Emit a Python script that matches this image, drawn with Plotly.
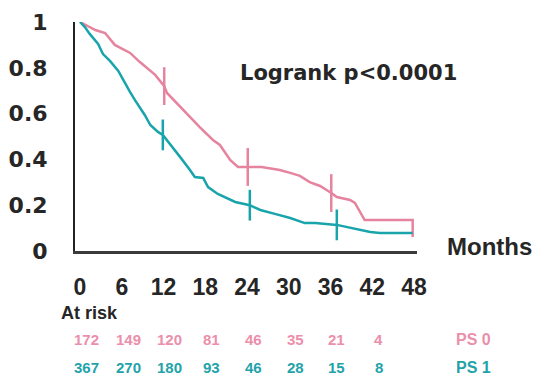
import plotly.graph_objects as go

# ---- data ----
ps0_months = [0, 2.2, 3.6, 5.0, 7.2, 8.6, 10.8, 12.1, 12.5, 14.8, 17.2, 19.1, 20.1, 21.6, 22.7,
              26.1, 28.7, 30.2, 31.6, 33.0, 34.5, 36.1, 36.9, 38.8, 39.5, 40.9, 47.8, 47.8]
ps0_surv = [1.0, 0.965, 0.952, 0.90, 0.865, 0.825, 0.769, 0.72, 0.69, 0.616, 0.541, 0.485, 0.463, 0.397, 0.367,
            0.367, 0.354, 0.341, 0.328, 0.301, 0.284, 0.253, 0.236, 0.223, 0.21, 0.135, 0.135, 0.061]
ps1_months = [0, 0.7, 1.4, 2.6, 3.3, 4.3, 5.5, 6.5, 7.2, 7.9, 9.3, 10.1, 11.2, 11.9, 13.2, 14.4, 15.8, 16.5,
              17.7, 18.4, 19.8, 22.3, 24.4, 25.9, 28.0, 30.2, 32.3, 33.8, 36.9, 39.5, 41.7, 43.1, 47.8]
ps1_surv = [1.0, 0.978, 0.948, 0.904, 0.86, 0.83, 0.786, 0.729, 0.694, 0.659, 0.594, 0.55, 0.52, 0.507, 0.454,
            0.41, 0.354, 0.323, 0.319, 0.279, 0.249, 0.214, 0.2, 0.179, 0.162, 0.144, 0.122, 0.122, 0.114,
            0.096, 0.083, 0.079, 0.079]
ps0_censor_months = [12.1, 24.1, 36.1]
ps0_censor_surv = [0.72, 0.367, 0.253]
ps1_censor_months = [11.9, 24.4, 36.9]
ps1_censor_surv = [0.507, 0.2, 0.114]

x_ticks = [0, 6, 12, 18, 24, 30, 36, 42, 48]
y_ticks = [0, 0.2, 0.4, 0.6, 0.8, 1]
y_tick_labels = ["0", "0.2", "0.4", "0.6", "0.8", "1"]
risk_months = [0, 6, 12, 18, 24, 30, 36, 42]
ps0_at_risk = [172, 149, 120, 81, 46, 35, 21, 4]
ps1_at_risk = [367, 270, 180, 93, 46, 28, 15, 8]

PINK = "#E6849F"
TEAL = "#19A4AC"
PINK_TXT = "#EB8FAB"
TEAL_TXT = "#1FA3AA"
TXT = "#262626"
FONT = "Liberation Sans"
WIDE = "DejaVu Sans"

fig = go.Figure()
fig.add_trace(go.Scatter(x=ps0_months, y=ps0_surv, mode="lines",
                         line=dict(color=PINK, width=2.5), cliponaxis=False, showlegend=False))
fig.add_trace(go.Scatter(x=ps1_months, y=ps1_surv, mode="lines",
                         line=dict(color=TEAL, width=2.5), cliponaxis=False, showlegend=False))
fig.add_trace(go.Scatter(x=ps0_censor_months, y=ps0_censor_surv, mode="markers",
                         marker=dict(symbol="line-ns", size=27, line=dict(color=PINK, width=2.5)),
                         cliponaxis=False, showlegend=False))
fig.add_trace(go.Scatter(x=ps1_censor_months, y=ps1_censor_surv, mode="markers",
                         marker=dict(symbol="line-ns", size=22, line=dict(color=TEAL, width=2.5)),
                         cliponaxis=False, showlegend=False))

# plot area: x 75..417 px, y 22..251 px
L, R, T, B = 75, 417, 22, 251
W, H = 536, 377
PH = B - T

def ypaper(py):
    return (B - py) / PH

def xpaper(px):
    return (px - L) / (R - L)

ann = []
ann.append(dict(text="Logrank p<0.0001", x=xpaper(238), xref="paper", y=ypaper(73),
                yref="paper", showarrow=False, xanchor="left", yanchor="middle",
                font=dict(family=WIDE, size=21, color=TXT, weight="bold")))
ann.append(dict(text="Months", x=xpaper(489), xref="paper", y=ypaper(246), yref="paper",
                showarrow=False, xanchor="center", yanchor="middle",
                font=dict(family=FONT, size=24, color=TXT, weight="bold")))
ann.append(dict(text="At risk", x=xpaper(59), xref="paper", y=ypaper(313), yref="paper",
                showarrow=False, xanchor="left", yanchor="middle",
                font=dict(family=FONT, size=18, color=TXT, weight="bold")))
for m, a, b in zip(risk_months, ps0_at_risk, ps1_at_risk):
    ann.append(dict(text=str(a), x=m + 0.9, xref="x", y=ypaper(339.5), yref="paper", showarrow=False,
                    xanchor="center", yanchor="middle",
                    font=dict(family=FONT, size=15, color=PINK_TXT, weight="bold")))
    ann.append(dict(text=str(b), x=m + 0.9, xref="x", y=ypaper(367.5), yref="paper", showarrow=False,
                    xanchor="center", yanchor="middle",
                    font=dict(family=FONT, size=15, color=TEAL_TXT, weight="bold")))
ann.append(dict(text="PS 0", x=xpaper(473), xref="paper", y=ypaper(339.5), yref="paper",
                showarrow=False, xanchor="center", yanchor="middle",
                font=dict(family=FONT, size=16, color=PINK_TXT, weight="bold")))
ann.append(dict(text="PS 1", x=xpaper(473), xref="paper", y=ypaper(367.5), yref="paper",
                showarrow=False, xanchor="center", yanchor="middle",
                font=dict(family=FONT, size=16, color=TEAL_TXT, weight="bold")))

fig.update_layout(
    width=W, height=H,
    margin=dict(l=L, r=W - R, t=T, b=H - B, pad=0, autoexpand=False),
    plot_bgcolor="white", paper_bgcolor="white",
    annotations=ann,
    xaxis=dict(range=[-0.72, 48.42], tickvals=x_ticks, ticktext=[str(v) for v in x_ticks],
               showgrid=False, zeroline=False, showline=True, linecolor="#3a3a3a", linewidth=3,
               ticks="", ticklabelstandoff=13, automargin=False,
               tickfont=dict(family=FONT, size=23, color=TXT, weight="bold"), fixedrange=True),
    yaxis=dict(range=[0, 1], tickvals=y_ticks, ticktext=y_tick_labels,
               showgrid=False, zeroline=False, showline=True, linecolor="#222", linewidth=2,
               ticks="", ticklabelstandoff=21, automargin=False,
               tickfont=dict(family=WIDE, size=22, color=TXT, weight="bold"), fixedrange=True),
)

fig.write_html("out.html")
